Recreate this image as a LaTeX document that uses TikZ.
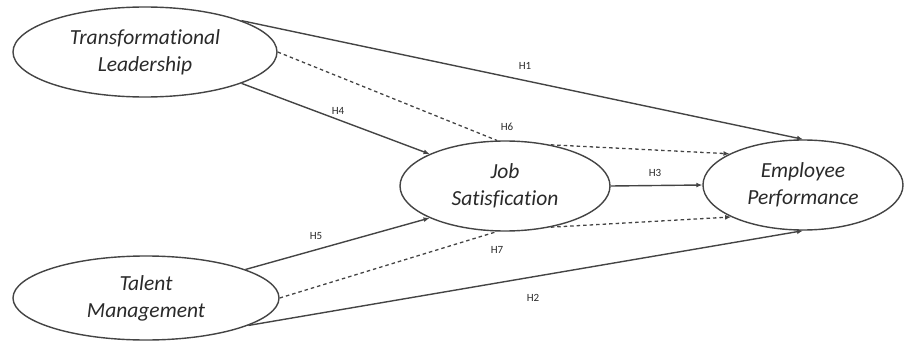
\documentclass[tikz,border=0pt]{standalone}
\usepackage{fontspec}
\setmainfont{Carlito}[Ligatures=CommonOff]
\usetikzlibrary{shapes.geometric,arrows.meta}
\definecolor{linegray}{HTML}{444444}
\definecolor{textgray}{HTML}{2A2A2A}
\tikzset{
  construct/.style={ellipse, draw=linegray, line width=1.4pt, fill=white, inner sep=0pt,
    font=\fontsize{21.5}{27}\selectfont\itshape, text=textgray, align=center},
  path/.style={draw=linegray, line width=1.4pt, -{Latex[length=6pt,width=5pt]}},
  medpath/.style={draw=linegray, line width=1.3pt, dash pattern=on 3.5pt off 3pt},
  hyp/.style={font=\fontsize{11}{13}\selectfont, text=textgray, inner sep=1pt}
}
\begin{document}
\begin{tikzpicture}[x=1pt,y=-1pt]
\useasboundingbox (0,0) rectangle (906,345);
\node[construct, minimum width=264pt, minimum height=90pt] (TL) at (145,52) {Transformational\\Leadership};
\node[construct, minimum width=266pt, minimum height=84pt] (TM) at (146,298) {Talent\\Management};
\node[construct, minimum width=210pt, minimum height=90pt] (JS) at (505,186) {Job\\Satisfication};
\node[construct, minimum width=200pt, minimum height=90pt] (EP) at (803,185) {Employee\\Performance};
% direct effects
\draw[path] (TL.18) -- (EP.north);
\draw[path] (TL.-18) -- (JS.157);
\draw[path] (JS.east) -- (EP.west);
\draw[path] (TM.16) -- (JS.203);
\draw[path] (TM.-15) -- (EP.south);
% mediated (dashed) paths
\draw[medpath] (TL.east) -- (JS.100);
\draw[medpath, -{Latex[length=6pt,width=5pt]}] (JS.42) -- (EP.157);
\draw[medpath] (TM.east) -- (JS.260);
\draw[medpath, -{Latex[length=6pt,width=5pt]}] (JS.318) -- (EP.204);
% labels
\node[hyp] (h1) at (525,66) {H1};
\node[hyp] (h6) at (507,127) {H6};
\node[hyp] (h4) at (338,111) {H4};
\node[hyp] (h3) at (655,173) {H3};
\node[hyp] (h5) at (316,236) {H5};
\node[hyp] (h7) at (497,250) {H7};
\node[hyp] (h2) at (533,298) {H2};
\end{tikzpicture}
\end{document}
